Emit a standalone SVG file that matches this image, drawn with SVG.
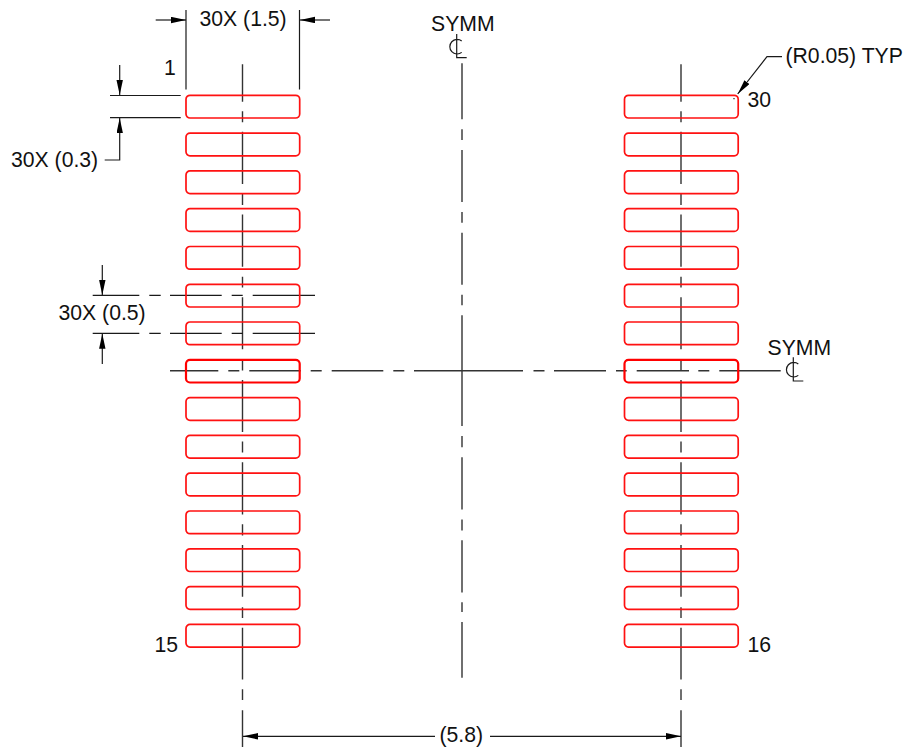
<svg xmlns="http://www.w3.org/2000/svg" xmlns:xlink="http://www.w3.org/1999/xlink" width="906" height="750" viewBox="0 0 906 750">
<style>
.bg{fill:#fff}
.ln{fill:none;stroke:#1a1a1a;stroke-width:1.2}
.cl{fill:none;stroke:#333;stroke-width:1.4}
.pad{fill:none;stroke:#f11;stroke-width:1.7}
.padc{fill:none;stroke:#f00;stroke-width:2.2}
text{font-family:"Liberation Sans",Arial,sans-serif;font-size:21.2px;fill:#111}
</style>
<defs>
<marker id="ah" markerUnits="userSpaceOnUse" markerWidth="16" markerHeight="8" refX="15" refY="3.2" orient="auto"><path d="M0 0L15 3.2L0 6.4L0 3.2Z" fill="#000"/></marker>
<rect id="p" width="113.7" height="22.7" rx="4" ry="4"/>
</defs>
<rect class="bg" width="906" height="750"/>
<g id="connectors">
<path class="cl" d="M242.5 64.3V101.7M242.5 111.2V122.3M242.5 131.8V184.1M242.5 193.7V205M242.5 214.4V266.7M242.5 276.7V287.5M242.5 297.3V349.3M242.5 359.5V370.5M242.5 380V432M242.5 441.6V452.6M242.5 462.3V514.4M242.5 524.3V535.5M242.5 545V596.8M242.5 607.2V617.9M242.5 627.7V679.4M242.5 689.3V700M242.5 710.3V747"/>
<path class="cl" d="M681 64.3V101.7M681 111.2V122.3M681 131.8V184.1M681 193.7V205M681 214.4V266.7M681 276.7V287.5M681 297.3V349.3M681 359.5V370.5M681 380V432M681 441.6V452.6M681 462.3V514.4M681 524.3V535.5M681 545V596.8M681 607.2V617.9M681 627.7V679.4M681 689.3V700M681 710.3V747"/>
<path class="cl" d="M462 63.3V119.3M462 129.3V140M462 150V202M462 212V222.7M462 232.7V284.7M462 294.7V305.3M462 315.3V426M462 436V447.3M462 457.3V509.5M462 519.5V530.5M462 540.3V592.5M462 602.3V612M462 622V677.7"/>
<path class="cl" d="M170 370.7H218.3M228.3 370.7H239.3M249.3 370.7H300.7M310.7 370.7H321.7M331.7 370.7H383.3M393.3 370.7H404.3M414 370.7H523M533.5 370.7H544.5M554 370.7H606M616 370.7H626.7M636.7 370.7H689M698.3 370.7H709.3M719.3 370.7H780.7"/>
<path class="ln" d="M186 10V89.5M299.5 10V89.5"/>
<path class="ln" marker-end="url(#ah)" d="M155.7 20H186"/>
<path class="ln" marker-end="url(#ah)" d="M330 20H300"/>
<path class="ln" d="M110 95.5H180.7M110 117.7H180.7"/>
<path class="ln" marker-end="url(#ah)" d="M119.7 65V95"/>
<path class="ln" marker-end="url(#ah)" d="M104.7 160H119.7V118"/>
<path class="ln" d="M92.7 295.4H139.3M149.3 295.4H160.7M170 295.4H221.7M231.7 295.4H242.7M252.7 295.4H315"/>
<path class="ln" d="M92.7 333.3H139.3M149.3 333.3H160.7M170 333.3H221.7M231.7 333.3H242.7M252.7 333.3H315"/>
<path class="ln" marker-end="url(#ah)" d="M102.3 265V295"/>
<path class="ln" marker-end="url(#ah)" d="M102.3 364V333.7"/>
<path class="ln" marker-end="url(#ah)" d="M782 56.7H767L737.7 94"/>
<path class="ln" d="M734 98V99.2"/>
<path class="ln" marker-end="url(#ah)" d="M435 736.3H243"/>
<path class="ln" marker-end="url(#ah)" d="M490 736.3H681"/>
<path class="ln" d="M456.7 34V57.7H466.7M461.7 41A7.3 7.3 0 1 0 461.7 52.4"/>
<path class="ln" d="M793.3 357.3V381H803.3M798.3 364A7.3 7.3 0 1 0 798.3 375.4"/>
</g>
<g id="pads-left">
<g id="pad-1"><use href="#p" class="pad" x="186" y="95.3"/></g>
<g id="pad-2"><use href="#p" class="pad" x="186" y="133.1"/></g>
<g id="pad-3"><use href="#p" class="pad" x="186" y="170.9"/></g>
<g id="pad-4"><use href="#p" class="pad" x="186" y="208.7"/></g>
<g id="pad-5"><use href="#p" class="pad" x="186" y="246.5"/></g>
<g id="pad-6"><use href="#p" class="pad" x="186" y="284.3"/></g>
<g id="pad-7"><use href="#p" class="pad" x="186" y="322"/></g>
<g id="pad-8"><use href="#p" class="padc" x="186" y="359.8"/></g>
<g id="pad-9"><use href="#p" class="pad" x="186" y="397.6"/></g>
<g id="pad-10"><use href="#p" class="pad" x="186" y="435.4"/></g>
<g id="pad-11"><use href="#p" class="pad" x="186" y="473.2"/></g>
<g id="pad-12"><use href="#p" class="pad" x="186" y="511"/></g>
<g id="pad-13"><use href="#p" class="pad" x="186" y="548.8"/></g>
<g id="pad-14"><use href="#p" class="pad" x="186" y="586.6"/></g>
<g id="pad-15"><use href="#p" class="pad" x="186" y="624.4"/></g>
</g>
<g id="pads-right">
<g id="pad-30"><use href="#p" class="pad" x="624.5" y="95.3"/></g>
<g id="pad-29"><use href="#p" class="pad" x="624.5" y="133.1"/></g>
<g id="pad-28"><use href="#p" class="pad" x="624.5" y="170.9"/></g>
<g id="pad-27"><use href="#p" class="pad" x="624.5" y="208.7"/></g>
<g id="pad-26"><use href="#p" class="pad" x="624.5" y="246.5"/></g>
<g id="pad-25"><use href="#p" class="pad" x="624.5" y="284.3"/></g>
<g id="pad-24"><use href="#p" class="pad" x="624.5" y="322"/></g>
<g id="pad-23"><use href="#p" class="padc" x="624.5" y="359.8"/></g>
<g id="pad-22"><use href="#p" class="pad" x="624.5" y="397.6"/></g>
<g id="pad-21"><use href="#p" class="pad" x="624.5" y="435.4"/></g>
<g id="pad-20"><use href="#p" class="pad" x="624.5" y="473.2"/></g>
<g id="pad-19"><use href="#p" class="pad" x="624.5" y="511"/></g>
<g id="pad-18"><use href="#p" class="pad" x="624.5" y="548.8"/></g>
<g id="pad-17"><use href="#p" class="pad" x="624.5" y="586.6"/></g>
<g id="pad-16"><use href="#p" class="pad" x="624.5" y="624.4"/></g>
</g>
<g id="labels">
<text x="199.5" y="26">30X (1.5)</text>
<text x="11" y="167">30X (0.3)</text>
<text x="58.5" y="320">30X (0.5)</text>
<text x="164" y="75">1</text>
<text x="154.5" y="652">15</text>
<text x="747.5" y="107.3">30</text>
<text x="747.5" y="652">16</text>
<text x="431" y="31">SYMM</text>
<text x="767.5" y="354.5">SYMM</text>
<text x="785.5" y="62.7">(R0.05) TYP</text>
<text x="439.5" y="742">(5.8)</text>
</g>
</svg>
